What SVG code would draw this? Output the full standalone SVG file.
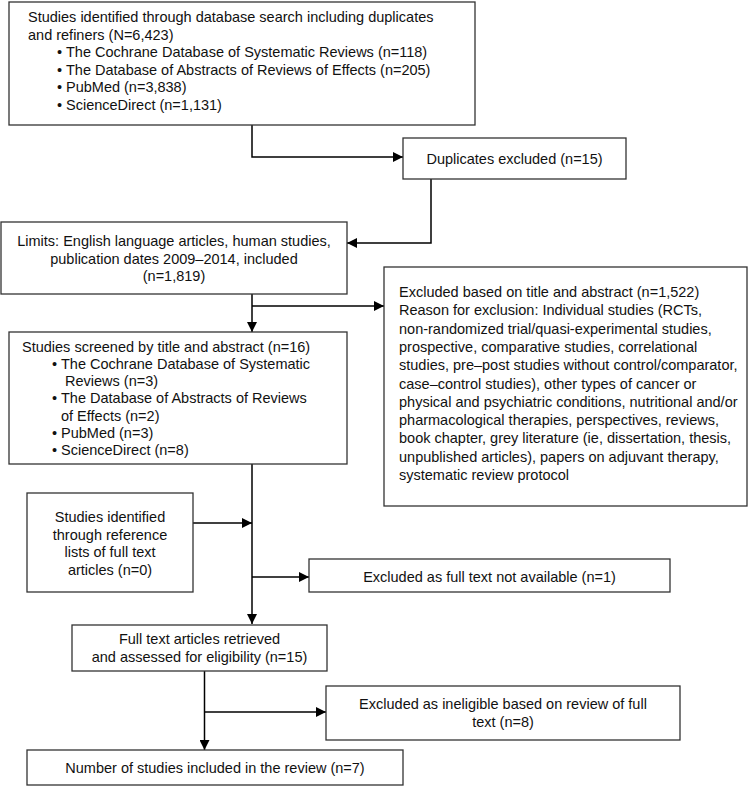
<svg xmlns="http://www.w3.org/2000/svg" width="751" height="786" viewBox="0 0 751 786">
<defs>
<marker id="ah" markerUnits="userSpaceOnUse" markerWidth="11" markerHeight="10" refX="10" refY="5" orient="auto">
<path d="M0,0 L10,5 L0,10 Z" fill="#000"/>
</marker>
<style>
.box{fill:#fff;stroke:#333;stroke-width:1.3}
.t{font-family:"Liberation Sans",Arial,sans-serif;font-size:14.5px;fill:#111}
.c{text-anchor:middle}
.ln{fill:none;stroke:#000;stroke-width:1.5}
.ar{marker-end:url(#ah)}
</style>
</defs>
<rect width="751" height="786" fill="#fff"/>

<g id="connectors">
<path class="ln ar" d="M252,125 V157 H403"/>
<path class="ln ar" d="M431,179 V243 H347"/>
<path class="ln ar" d="M252,294 V332"/>
<path class="ln ar" d="M252,306 H384"/>
<path class="ln ar" d="M252,464 V624"/>
<path class="ln ar" d="M193,523 H252"/>
<path class="ln ar" d="M252,577 H309"/>
<path class="ln ar" d="M204.5,671 V750"/>
<path class="ln ar" d="M204.5,712 H326"/>
</g>

<g id="n1">
<rect class="box" x="9" y="2" width="466" height="123"/>
<text class="t" x="28" y="22">Studies identified through database search including duplicates</text>
<text class="t" x="28" y="39.5">and refiners (N=6,423)</text>
<text class="t" x="57" y="57">•</text><text class="t" x="66" y="57">The Cochrane Database of Systematic Reviews (n=118)</text>
<text class="t" x="57" y="74.5">•</text><text class="t" x="66" y="74.5">The Database of Abstracts of Reviews of Effects (n=205)</text>
<text class="t" x="57" y="92">•</text><text class="t" x="66" y="92">PubMed (n=3,838)</text>
<text class="t" x="57" y="109.5">•</text><text class="t" x="66" y="109.5">ScienceDirect (n=1,131)</text>
</g>

<g id="n2">
<rect class="box" x="403" y="138" width="223" height="41"/>
<text class="t c" x="514.5" y="164">Duplicates excluded (n=15)</text>
</g>

<g id="n3">
<rect class="box" x="1" y="222" width="346" height="72"/>
<text class="t c" x="174" y="246">Limits: English language articles, human studies,</text>
<text class="t c" x="174" y="263.5">publication dates 2009–2014, included</text>
<text class="t c" x="174" y="281">(n=1,819)</text>
</g>

<g id="n4">
<rect class="box" x="384" y="267" width="363" height="239"/>
<text class="t" x="399" y="297">Excluded based on title and abstract (n=1,522)</text>
<text class="t" x="399" y="315.3">Reason for exclusion: Individual studies (RCTs,</text>
<text class="t" x="399" y="333.6">non-randomized trial/quasi-experimental studies,</text>
<text class="t" x="399" y="351.9">prospective, comparative studies, correlational</text>
<text class="t" x="399" y="370.2">studies, pre–post studies without control/comparator,</text>
<text class="t" x="399" y="388.5">case–control studies), other types of cancer or</text>
<text class="t" x="399" y="406.8">physical and psychiatric conditions,  nutritional and/or</text>
<text class="t" x="399" y="425.1">pharmacological therapies, perspectives, reviews,</text>
<text class="t" x="399" y="443.4">book chapter, grey literature (ie, dissertation, thesis,</text>
<text class="t" x="399" y="461.7">unpublished articles), papers on adjuvant therapy,</text>
<text class="t" x="399" y="480">systematic review protocol</text>
</g>

<g id="n5">
<rect class="box" x="9" y="332" width="338" height="132"/>
<text class="t" x="22" y="352">Studies screened by title and abstract (n=16)</text>
<text class="t" x="52" y="369">•</text><text class="t" x="61" y="369">The Cochrane Database of Systematic</text>
<text class="t" x="65" y="386">Reviews (n=3)</text>
<text class="t" x="52" y="403">•</text><text class="t" x="61" y="403">The Database of Abstracts of Reviews</text>
<text class="t" x="61" y="420.5">of Effects (n=2)</text>
<text class="t" x="52" y="437.5">•</text><text class="t" x="61" y="437.5">PubMed (n=3)</text>
<text class="t" x="52" y="454.5">•</text><text class="t" x="61" y="454.5">ScienceDirect (n=8)</text>
</g>

<g id="n6">
<rect class="box" x="27" y="493" width="166" height="99"/>
<text class="t c" x="110" y="522">Studies identified</text>
<text class="t c" x="110" y="539.5">through reference</text>
<text class="t c" x="110" y="557">lists of full text</text>
<text class="t c" x="110" y="574.5">articles (n=0)</text>
</g>

<g id="n7">
<rect class="box" x="309" y="559" width="361" height="33"/>
<text class="t c" x="489.5" y="582">Excluded as full text not available (n=1)</text>
</g>

<g id="n8">
<rect class="box" x="72" y="625" width="255" height="46"/>
<text class="t c" x="199.5" y="644">Full text articles retrieved</text>
<text class="t c" x="199.5" y="661.5">and assessed for eligibility (n=15)</text>
</g>

<g id="n9">
<rect class="box" x="326" y="686" width="354" height="54"/>
<text class="t c" x="503" y="709">Excluded as ineligible based on review of full</text>
<text class="t c" x="503" y="726.5">text (n=8)</text>
</g>

<g id="n10">
<rect class="box" x="27" y="750" width="376" height="35"/>
<text class="t c" x="215" y="773">Number of studies included in the review (n=7)</text>
</g>
</svg>
